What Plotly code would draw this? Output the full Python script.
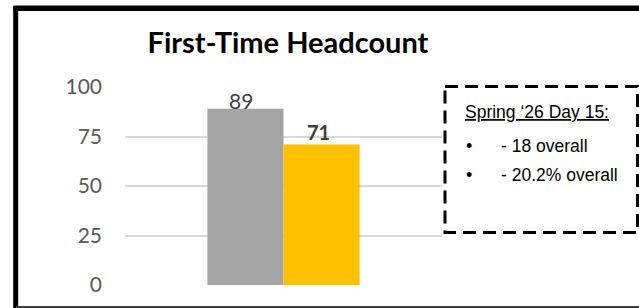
import plotly.graph_objects as go

W, H = 639, 308

category = ["First-Time Headcount"]
series_names = ["Spring '25 Day 15", "Spring '26 Day 15"]
series_values = [[89], [71]]

tick_vals = [0, 25, 50, 75, 100]
tick_text = ["0", "25", "50", "75", "100"]

note_title = "Spring \u201826 Day 15:"
note_lines = ["- 18 overall", "- 20.2% overall"]

# styling (kept separate from the data)
series_style = [
    dict(color="#A5A5A5", bold=False, size=21, xshift=-43, yshift=-6),
    dict(color="#FFC000", bold=True, size=20, xshift=35, yshift=-2),
]


def px(x):
    return x / W


def py(y):
    return 1 - y / H


fig = go.Figure()
annotations = []
for name, vals, st in zip(series_names, series_values, series_style):
    fig.add_trace(go.Bar(
        x=category, y=vals, name=name,
        marker=dict(color=st["color"], line=dict(width=0)),
        hoverinfo="x+y+name",
    ))
    for c, v in zip(category, vals):
        txt = f"<b>{v}</b>" if st["bold"] else f"{v}"
        annotations.append(dict(
            x=c, y=v, xref="x", yref="y", text=txt, showarrow=False,
            xanchor="center", yanchor="bottom", xshift=st["xshift"], yshift=st["yshift"],
            font=dict(family="Lato", size=st["size"], color="#404040"),
        ))

shapes = [
    # outer frame
    dict(type="line", xref="paper", yref="paper", x0=px(15.7), x1=px(15.7), y0=py(6), y1=py(308),
         line=dict(color="black", width=5)),
    dict(type="line", xref="paper", yref="paper", x0=px(13.5), x1=px(639), y0=py(8.2), y1=py(8.2),
         line=dict(color="black", width=5.5)),
    dict(type="line", xref="paper", yref="paper", x0=px(16), x1=px(639), y0=py(307), y1=py(307),
         line=dict(color="#404040", width=2)),
    # dashed note box
    dict(type="rect", xref="paper", yref="paper", x0=px(445), x1=px(637.5), y0=py(86.5), y1=py(232.5),
         line=dict(color="black", width=3, dash="13px,7px")),
]

note_font = dict(family="Liberation Sans, Arial", size=17.5, color="black")
annotations.append(dict(text="<u>" + note_title + "</u>", x=px(463), y=py(112), xref="paper", yref="paper",
                        xanchor="left", yanchor="middle", showarrow=False, font=note_font))
for i, line in enumerate(note_lines):
    yc = 146 + i * 29
    annotations.append(dict(text="\u2022", x=px(464), y=py(yc), xref="paper", yref="paper",
                            xanchor="left", yanchor="middle", showarrow=False,
                            font=dict(family="Liberation Sans, Arial", size=18, color="black")))
    annotations.append(dict(text=line, x=px(499), y=py(yc), xref="paper", yref="paper",
                            xanchor="left", yanchor="middle", showarrow=False, font=note_font))

fig.update_layout(
    width=W, height=H,
    margin=dict(l=0, r=0, t=0, b=0, pad=0, autoexpand=False),
    paper_bgcolor="white", plot_bgcolor="white",
    showlegend=False,
    barmode="group", bargap=0.52, bargroupgap=0,
    title=dict(text="<b>First-Time Headcount</b>", x=px(288), y=py(43), xref="paper", yref="paper",
               xanchor="center", yanchor="middle", automargin=False,
               font=dict(family="Lato", size=29, color="black")),
    xaxis=dict(domain=[px(125), px(442)], showticklabels=False, showgrid=False, zeroline=False,
               showline=False, ticks="", automargin=False),
    yaxis=dict(domain=[py(285), py(87)], range=[0, 100], tickvals=tick_vals, ticktext=tick_text,
               showgrid=True, gridcolor="#D9D9D9", gridwidth=1.5, zeroline=False, showline=False,
               ticks="", ticklabelstandoff=22, automargin=False,
               tickfont=dict(family="Lato", size=21, color="#595959")),
    shapes=shapes,
    annotations=annotations,
)

fig.write_html("out.html", config={"displayModeBar": False},
               post_script="document.body.style.margin='0';document.body.style.padding='0';")
